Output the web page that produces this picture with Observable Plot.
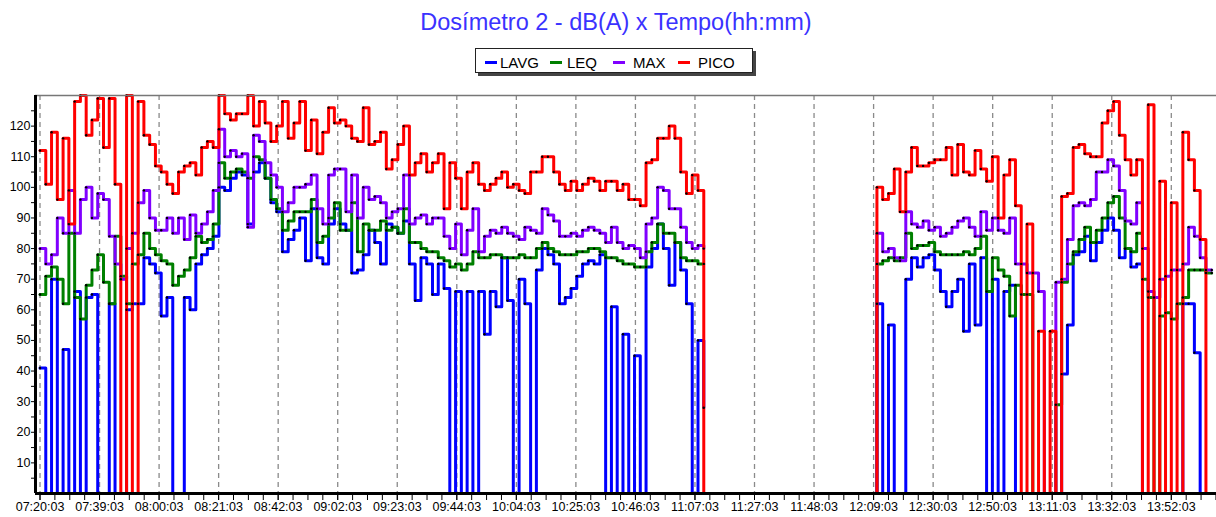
<!DOCTYPE html>
<html><head><meta charset="utf-8">
<script src="https://cdn.jsdelivr.net/npm/d3@7"></script>
<script src="https://cdn.jsdelivr.net/npm/@observablehq/plot@0.6"></script>
<style>
html,body{margin:0;padding:0;background:#fff;}
#wrap{position:relative;width:1216px;height:517px;overflow:hidden;font-family:"Liberation Sans",Arial,sans-serif;}
#title{position:absolute;left:0;width:1232px;top:11px;text-align:center;font-size:23.5px;line-height:1;color:#3a32ff;white-space:nowrap;}
#legendbox{position:absolute;left:475px;top:48px;width:278px;height:25px;box-sizing:border-box;border:1px solid #222;box-shadow:3px 3px 0 #444;background:#fff;}
.sw{position:absolute;height:3px;width:12px;top:61px;}
.lt{position:absolute;top:55px;font-size:15px;line-height:15px;color:#000;}
#chart{position:absolute;left:0;top:90px;}
</style></head><body>
<div id="wrap">
<div id="title">Dosímetro 2 - dB(A) x Tempo(hh:mm)</div>
<div id="legendbox"></div>
<div id="chart"></div>
</div>
<script>
// ---- time axis ----
const tickLabels = ["07:20:03","07:39:03","08:00:03","08:21:03","08:42:03","09:02:03","09:23:03","09:44:03","10:04:03","10:25:03","10:46:03","11:07:03","11:27:03","11:48:03","12:09:03","12:30:03","12:50:03","13:11:03","13:32:03","13:52:03"];
const TICK_STEP = 392 / 19;      // minutes between labelled ticks
const STEP = 2;                  // minutes between samples
const START_A = 0;               // first block starts 07:20:03
const START_B = 288;             // second block starts ~12:08

// ---- series names / colours ----
const names = ["LAVG", "LEQ", "MAX", "PICO"];
const colors = ["#0000ff", "#008000", "#8000ff", "#ff0000"];

// ---- block A (07:20 - 11:10), values in dB ----
const lavgA = [41,0,70,0,47,0,66,0,64,65, 0,0,62,0,0,60,62,62,77,75, 72,58,64,0,0,64,60,75,78,80,
 84,100,99,103,105,104,88,105,108,103, 95,92,79,83,86,90,76,93,77,75, 88,93,88,86,72,73,78,86,82,75,
 88,87,85,89,75,63,77,75,65,75, 67,0,66,0,66,0,66,52,66,61, 77,63,0,70,62,0,73,80,78,75,
 62,64,67,71,75,76,75,78,0,61, 0,52,0,45,0,74,80,88,80,68, 82,73,62,0,50,28];
const leqA = [65,71,74,70,62,85,64,57,68,73, 78,69,62,84,71,62,75,78,85,80, 78,76,75,68,71,73,77,84,82,83,
 88,108,103,105,106,105,103,110,109,103, 96,93,86,89,92,92,92,96,82,84, 90,95,86,86,95,79,88,86,86,89,
 86,87,85,93,82,82,80,79,79,77, 76,74,75,73,75,79,77,77,78,78, 77,77,77,78,77,77,80,82,80,79,
 78,78,78,79,79,80,80,79,77,77, 76,75,75,74,74,79,82,88,85,85, 82,77,76,76,75,75];
const maxA = [80,75,78,90,85,99,85,96,100,90, 98,96,84,75,70,80,85,95,99,90, 86,86,90,85,90,83,91,85,88,92,
 99,119,110,112,110,111,87,117,115,108, 104,100,92,95,100,100,101,104,93,88, 104,106,106,92,104,90,100,96,97,95,
 90,92,93,104,88,90,91,88,90,90, 84,80,88,78,86,93,79,84,86,85, 87,85,84,83,87,86,85,93,91,89,
 84,84,85,84,86,87,86,85,82,87, 82,80,81,80,77,88,90,100,99,93, 93,87,82,80,81,80];
const picoA = [112,101,118,96,116,88,128,130,117,122, 129,113,129,101,0,130,0,128,117,114, 107,105,101,98,105,107,108,104,113,115,
 113,130,124,122,124,124,130,120,128,121, 115,120,128,116,121,128,112,122,111,118, 126,121,122,120,116,115,126,114,115,118,
 106,109,114,120,104,108,111,105,108,111, 93,108,103,93,105,108,101,99,101,103, 105,100,101,99,98,105,105,110,110,105,
 101,99,102,99,101,103,102,99,102,102, 99,101,96,96,94,108,109,116,116,120, 116,105,98,104,99,0];

// ---- block B (12:08 - 14:06) ----
const lavgB = [0,62,0,55,0,0,70,77,74,77, 78,73,66,61,66,70,53,75,55,77, 0,70,0,66,68,0,0,0,0,0,
 0,0,0,39,55,78,79,84,76,82, 86,90,86,77,80,74,75,0,0,0, 0,0,0,0,62,62,46,0,null,null];
const leqB = [0,75,76,77,76,77,85,80,81,81, 82,79,78,78,78,78,79,78,80,84, 66,77,73,71,58,68,65,65,0,0,
 0,0,29,69,75,79,83,87,82,86, 90,95,97,90,80,79,85,70,64,0, 58,59,57,62,64,73,73,73,72,72];
const maxB = [0,85,79,80,77,76,92,88,87,89, 86,87,84,85,87,89,90,87,84,92, 86,90,86,85,90,75,75,72,72,66,
 0,0,69,70,83,94,95,94,96,105, 105,109,107,99,89,88,95,80,66,64, 70,71,73,73,75,87,84,77,73,73];
const picoB = [0,100,96,98,106,92,105,113,107,107, 108,109,109,113,104,114,105,104,112,106, 102,110,90,104,109,94,0,88,0,53,
 0,53,0,97,98,113,114,111,110,110, 121,125,128,117,109,104,109,0,127,0, 102,0,95,0,118,109,99,83,0,null];

const blocksA = [lavgA, leqA, maxA, picoA];
const blocksB = [lavgB, leqB, maxB, picoB];

function rows(vals, start, seg) {
  return vals.map((v, i) => ({m: start + STEP * i, v, seg})).filter(d => d.v != null);
}
const seriesRows = names.map((n, k) => rows(blocksA[k], START_A, "A").concat(rows(blocksB[k], START_B, "B")));

const xDomain = [-1.56, 407.66];
const majorTicks = tickLabels.map((_, i) => i * TICK_STEP);
const minorTicks = d3.range(0, 80).map(i => i * TICK_STEP / 4).filter(d => d <= xDomain[1]);

const marks = [
  Plot.ruleX(majorTicks, {stroke: "#8a8a8a", strokeWidth: 1.3, strokeDasharray: "5,4"}),
  ...seriesRows.map((r, k) => Plot.line(r, {x: "m", y: "v", z: "seg", stroke: colors[k], strokeWidth: 3, curve: "step-after"})),
  Plot.dot(seriesRows.flat().filter(d => d.v > 0), {x: "m", y: "v", r: 1.2, fill: "black"}),
  Plot.ruleY([130], {stroke: "#777", strokeWidth: 1.5}),
  Plot.ruleY([0], {stroke: "black", strokeWidth: 3}),
  Plot.ruleX([xDomain[0]], {stroke: "black", strokeWidth: 3}),
  Plot.axisX(minorTicks, {tickSize: 7, tickFormat: () => "", label: null}),
  Plot.axisX(majorTicks, {tickSize: 7, tickPadding: 2, label: null, tickFormat: d => tickLabels[Math.round(d / TICK_STEP)]}),
  Plot.axisY(d3.range(5, 130, 5), {tickSize: 4, tickPadding: 1, label: null, tickFormat: d => d % 10 === 0 ? String(d) : ""})
];

const chart = Plot.plot({
  width: 1216, height: 427,
  marginTop: 5, marginBottom: 24, marginLeft: 35, marginRight: 0,
  x: {domain: xDomain},
  y: {domain: [0, 130]},
  style: {fontSize: "12.5px", fontFamily: "'Liberation Sans', Arial, sans-serif", color: "black", background: "white"},
  marks
});
document.getElementById("chart").appendChild(chart);

// legend
const wrap = document.getElementById("wrap");
const swX = [485, 550, 613, 678], txX = [500, 567, 633, 698];
names.forEach((n, k) => {
  const s = document.createElement("div"); s.className = "sw"; s.style.left = swX[k] + "px"; s.style.background = colors[k]; wrap.appendChild(s);
  const t = document.createElement("div"); t.className = "lt"; t.style.left = txX[k] + "px"; t.textContent = n; wrap.appendChild(t);
});
</script>
</body></html>
